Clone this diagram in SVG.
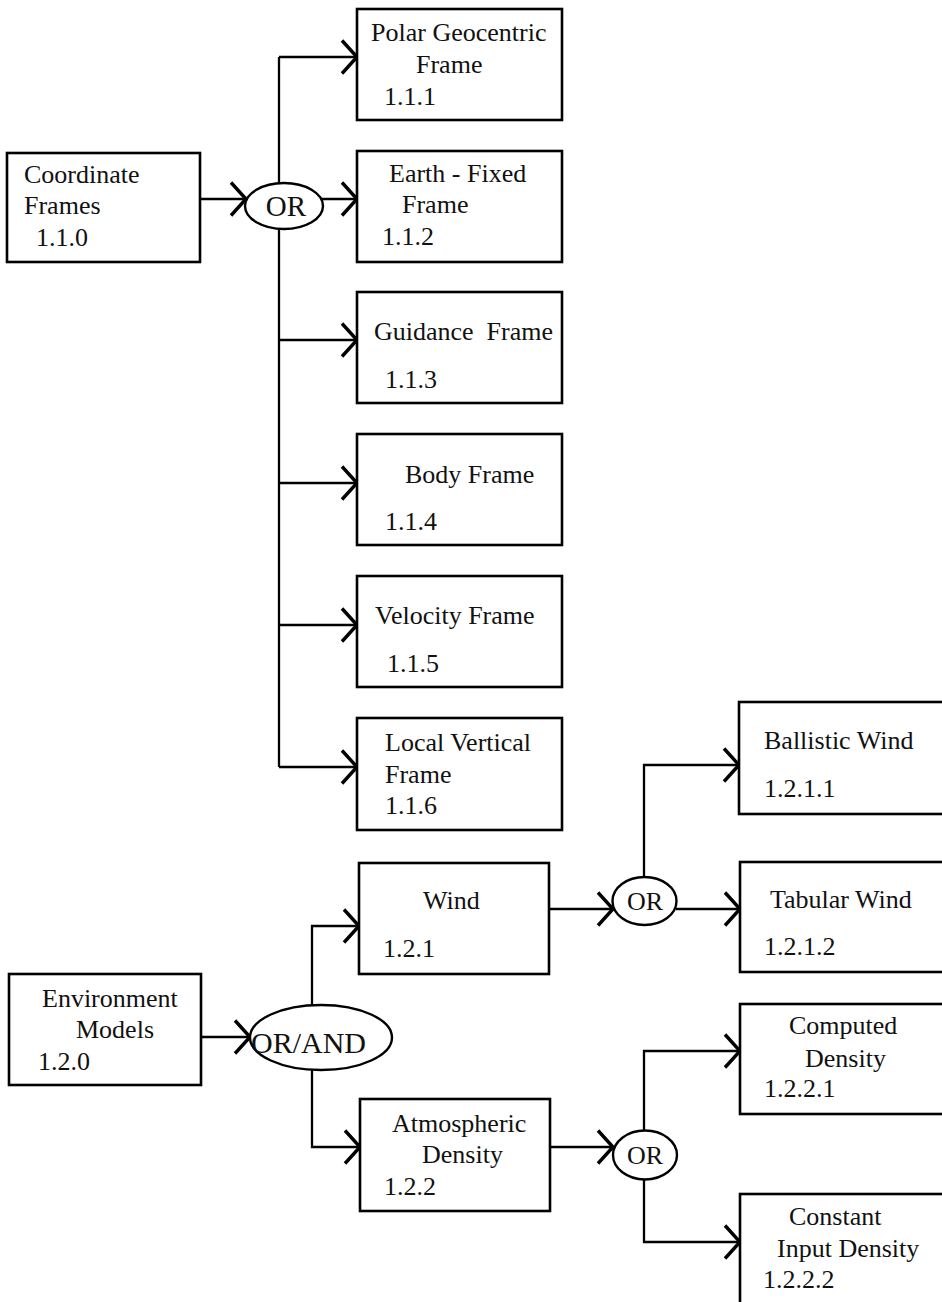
<svg xmlns="http://www.w3.org/2000/svg" width="942" height="1302" viewBox="0 0 942 1302">
  <style>
    .box { fill: #fff; stroke: #000; stroke-width: 2.6; }
    .gate { fill: #fff; stroke: #000; stroke-width: 2.4; }
    .wire { fill: none; stroke: #000; stroke-width: 2.3; }
    .arr { marker-end: url(#chev); }
    text { font-family: "Liberation Serif", "Times New Roman", serif; font-size: 26px; fill: #111; white-space: pre; }
    .op { font-size: 29px; text-anchor: middle; }
    .op-s { font-size: 26px; text-anchor: middle; }
    .op-l { font-size: 30px; }
  </style>
  <defs>
    <!-- open chevron arrowhead, tip at the end point of the connector -->
    <marker id="chev" markerUnits="userSpaceOnUse" viewBox="-20 -20 24 40" refX="0" refY="0" markerWidth="24" markerHeight="40" orient="auto" overflow="visible">
      <path d="M-15,-16.5 L0,0 L-15,16.5" fill="none" stroke="#000" stroke-width="3.4" stroke-linejoin="miter"/>
    </marker>
  </defs>
  <rect width="942" height="1302" fill="#fff"/>

  <!-- connectors -->
  <g id="connectors">
    <!-- coordinate frames tree -->
    <path class="wire arr" d="M200,199 H246"/>
    <path class="wire" d="M279,57 V767"/>
    <path class="wire arr" d="M279,57 H357"/>
    <path class="wire arr" d="M321,199 H357"/>
    <path class="wire arr" d="M279,340 H357"/>
    <path class="wire arr" d="M279,483 H357"/>
    <path class="wire arr" d="M279,625 H357"/>
    <path class="wire arr" d="M279,767 H357"/>
    <!-- environment models tree -->
    <path class="wire arr" d="M201,1037 H250"/>
    <path class="wire arr" d="M312,1006 V926 H359"/>
    <path class="wire arr" d="M312,1069 V1147 H360"/>
    <path class="wire arr" d="M549,909 H613"/>
    <path class="wire arr" d="M676,909 H740"/>
    <path class="wire arr" d="M644,877 V765 H739"/>
    <path class="wire arr" d="M550,1147 H613"/>
    <path class="wire arr" d="M644,1131 V1051 H740"/>
    <path class="wire arr" d="M644,1179 V1242 H740"/>
  </g>

  <!-- gates -->
  <g id="or-frames">
    <ellipse class="gate" cx="284" cy="206" rx="39" ry="23"/>
    <text class="op" x="286" y="216">OR</text>
  </g>
  <g id="or-and-env">
    <ellipse class="gate" cx="321" cy="1037.5" rx="71" ry="32.5"/>
    <text class="op-l" x="251" y="1053">OR/AND</text>
  </g>
  <g id="or-wind">
    <ellipse class="gate" cx="644.5" cy="901" rx="32" ry="24"/>
    <text class="op-s" x="645" y="910">OR</text>
  </g>
  <g id="or-density">
    <ellipse class="gate" cx="645" cy="1155" rx="32" ry="24.5"/>
    <text class="op-s" x="645" y="1164">OR</text>
  </g>

  <!-- nodes: coordinate frames -->
  <g id="n110">
    <rect class="box" x="7" y="153" width="193" height="109"/>
    <text x="24" y="183">Coordinate</text>
    <text x="24" y="214">Frames</text>
    <text x="36" y="246">1.1.0</text>
  </g>
  <g id="n111">
    <rect class="box" x="357" y="9" width="205" height="111"/>
    <text x="371" y="41">Polar Geocentric</text>
    <text x="416" y="73">Frame</text>
    <text x="384" y="105">1.1.1</text>
  </g>
  <g id="n112">
    <rect class="box" x="357" y="151" width="205" height="111"/>
    <text x="389" y="182">Earth - Fixed</text>
    <text x="402" y="213">Frame</text>
    <text x="382" y="245">1.1.2</text>
  </g>
  <g id="n113">
    <rect class="box" x="357" y="292" width="205" height="111"/>
    <text x="374" y="340">Guidance  Frame</text>
    <text x="385" y="388">1.1.3</text>
  </g>
  <g id="n114">
    <rect class="box" x="357" y="434" width="205" height="111"/>
    <text x="405" y="483">Body Frame</text>
    <text x="385" y="530">1.1.4</text>
  </g>
  <g id="n115">
    <rect class="box" x="357" y="576" width="205" height="111"/>
    <text x="375" y="624">Velocity Frame</text>
    <text x="387" y="672">1.1.5</text>
  </g>
  <g id="n116">
    <rect class="box" x="357" y="718" width="205" height="112"/>
    <text x="385" y="751">Local Vertical</text>
    <text x="385" y="783">Frame</text>
    <text x="385" y="814">1.1.6</text>
  </g>

  <!-- nodes: environment models -->
  <g id="n120">
    <rect class="box" x="9" y="974" width="192" height="111"/>
    <text x="42" y="1007">Environment</text>
    <text x="76" y="1038">Models</text>
    <text x="38" y="1070">1.2.0</text>
  </g>
  <g id="n121">
    <rect class="box" x="359" y="863" width="190" height="111"/>
    <text x="423" y="909">Wind</text>
    <text x="383" y="957">1.2.1</text>
  </g>
  <g id="n122">
    <rect class="box" x="360" y="1099" width="190" height="112"/>
    <text x="392" y="1132">Atmospheric</text>
    <text x="422" y="1163">Density</text>
    <text x="384" y="1195">1.2.2</text>
  </g>
  <g id="n1211">
    <rect class="box" x="739" y="702" width="230" height="112"/>
    <text x="764" y="749">Ballistic Wind</text>
    <text x="764" y="797">1.2.1.1</text>
  </g>
  <g id="n1212">
    <rect class="box" x="740" y="862" width="230" height="110"/>
    <text x="770" y="908">Tabular Wind</text>
    <text x="764" y="955">1.2.1.2</text>
  </g>
  <g id="n1221">
    <rect class="box" x="740" y="1004" width="230" height="110"/>
    <text x="789" y="1034">Computed</text>
    <text x="805" y="1067">Density</text>
    <text x="764" y="1097">1.2.2.1</text>
  </g>
  <g id="n1222">
    <rect class="box" x="740" y="1194" width="230" height="130"/>
    <text x="789" y="1225">Constant</text>
    <text x="777" y="1257">Input Density</text>
    <text x="763" y="1288">1.2.2.2</text>
  </g>
</svg>
